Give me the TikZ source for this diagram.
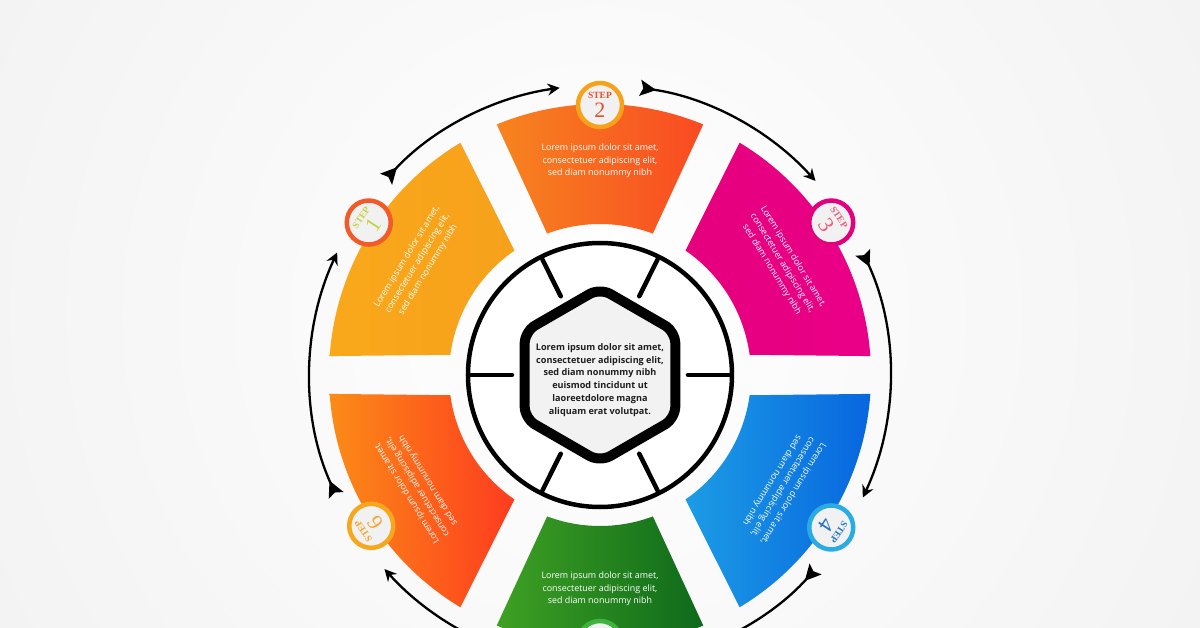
\documentclass[tikz,border=0pt]{standalone}
\usepackage{fontspec}
\setmainfont{Open Sans}
\newfontfamily\stepfont{Liberation Serif}
\usetikzlibrary{arrows.meta}
\definecolor{bggray}{HTML}{EFEFEF}
\definecolor{segAl}{HTML}{F9A81B}\definecolor{segAr}{HTML}{F7A11B}
\definecolor{segBl}{HTML}{F7841F}\definecolor{segBr}{HTML}{F94A22}
\definecolor{segCl}{HTML}{E5007D}\definecolor{segCr}{HTML}{EA0088}
\definecolor{segDl}{HTML}{1C9CE5}\definecolor{segDr}{HTML}{0766DF}
\definecolor{segEl}{HTML}{3EA123}\definecolor{segEr}{HTML}{0E6A1B}
\definecolor{segFl}{HTML}{FB8B17}\definecolor{segFr}{HTML}{FE3C1F}
\definecolor{ringA}{HTML}{F15A29}\definecolor{inkA}{HTML}{C3D43B}
\definecolor{ringB}{HTML}{F7A21B}\definecolor{inkB}{HTML}{E4502B}
\definecolor{ringC}{HTML}{E4007C}\definecolor{inkC}{HTML}{EB5C80}
\definecolor{ringD}{HTML}{2AACE3}\definecolor{inkD}{HTML}{2474C0}
\definecolor{ringE}{HTML}{3DB43C}\definecolor{inkE}{HTML}{2E8B2E}
\definecolor{ringF}{HTML}{F6A71E}\definecolor{inkF}{HTML}{F2A62F}
\definecolor{badgefill}{HTML}{F1F1F1}
\definecolor{hexfill}{HTML}{F2F2F2}
\definecolor{coreink}{HTML}{1E1E1E}
\tikzset{
  segtext/.style={text=white, align=center, inner sep=0pt, font=\fontsize{8.9}{12.4}\selectfont},
  badge/.style={circle, minimum size=44pt, inner sep=0pt, line width=4.5pt, fill=badgefill, align=center, font=\stepfont\fontsize{22}{18.5}\selectfont},
  cyc/.style={line width=2.3pt, arrows={Stealth[reversed,length=16pt,width=16pt,inset=3pt]-Stealth[length=12pt,width=12pt,inset=4pt]}},
  ring/.style={line width=4.5pt, fill=white},
  spoke/.style={line width=4.5pt, line cap=round},
  hexline/.style={line width=10pt, rounded corners=12pt, fill=hexfill},
  coretext/.style={text=coreink, align=center, inner sep=0pt, font=\bfseries\fontsize{9.1}{12.9}\selectfont}
}
\begin{document}
\begin{tikzpicture}[x=1pt,y=1pt]
\useasboundingbox (-600,-252) rectangle (600,375);
\fill[bggray] (-600,-252) rectangle (600,375);
\shade[inner color=white, outer color=bggray] (0,60) circle[radius=900pt];
% six coloured segments
\foreach \oa/\ob/\ia/\ib/\cl/\cr in {121/176/124.5/172.3/segAl/segAr, 67.6/112.4/69.5/110.5/segBl/segBr, 4/59/7.7/55.5/segCl/segCr, -59/-4/-55.5/-7.7/segDl/segDr, -112.4/-67.6/-110.5/-69.5/segEl/segEr, 184/239/187.7/235.5/segFl/segFr}
  \path[left color=\cl, right color=\cr] (\oa:271) arc[start angle=\oa, end angle=\ob, radius=271pt] -- (\ib:151) arc[start angle=\ib, end angle=\ia, radius=151pt] -- cycle;
\foreach \ang/\rot [count=\i] in {148.5/58.5, 90/0, 31.5/-58.5, -31.5/-121.5, -90/0, 211.5/121.5}
  \node[segtext, rotate=\rot] (txt\i) at (\ang:214) {Lorem ipsum dolor sit amet,\\consectetuer adipiscing elit,\\sed diam nonummy nibh};
% arrows round the wheel
\foreach \s/\e [count=\i] in {137.5/98, 82/42, 25/-25, -42/-82, -98/-138, 204.5/155}{
  \coordinate (tail\i) at (\s:290);
  \draw[cyc] (tail\i) arc[start angle=\s, end angle=\e, radius=290pt];
}
% step badges
\foreach \ang/\rad/\rot/\rc/\ink [count=\i] in {146.6/277/56.6/ringA/inkA, 90/270/0/ringB/inkB, 33.4/277/-56.6/ringC/inkC, -33.4/277/-123.4/ringD/inkD, -90/268/0/ringE/inkE, 213.4/274/123.4/ringF/inkF}
  \node[badge, draw=\rc, text=\ink, rotate=\rot] (step\i) at (\ang:\rad) {{\fontsize{9.5}{10}\selectfont\bfseries STEP}\\\i};
% centre
\draw[ring] (0,0) circle[radius=132pt];
\foreach \a in {0,63.5,116.5,180,243.5,296.5}
  \draw[spoke] (\a:88) -- (\a:129);
\draw[hexline] (0:75.3) -- (30:87) -- (90:87) -- (150:87) -- (210:87) -- (270:87) -- (330:87) -- cycle;
\node[coretext] (core) at (0,-5) {Lorem ipsum dolor sit amet,\\consectetuer adipiscing elit,\\sed diam nonummy nibh\\euismod tincidunt ut\\laoreetdolore magna\\aliquam erat volutpat.};
\end{tikzpicture}
\end{document}
